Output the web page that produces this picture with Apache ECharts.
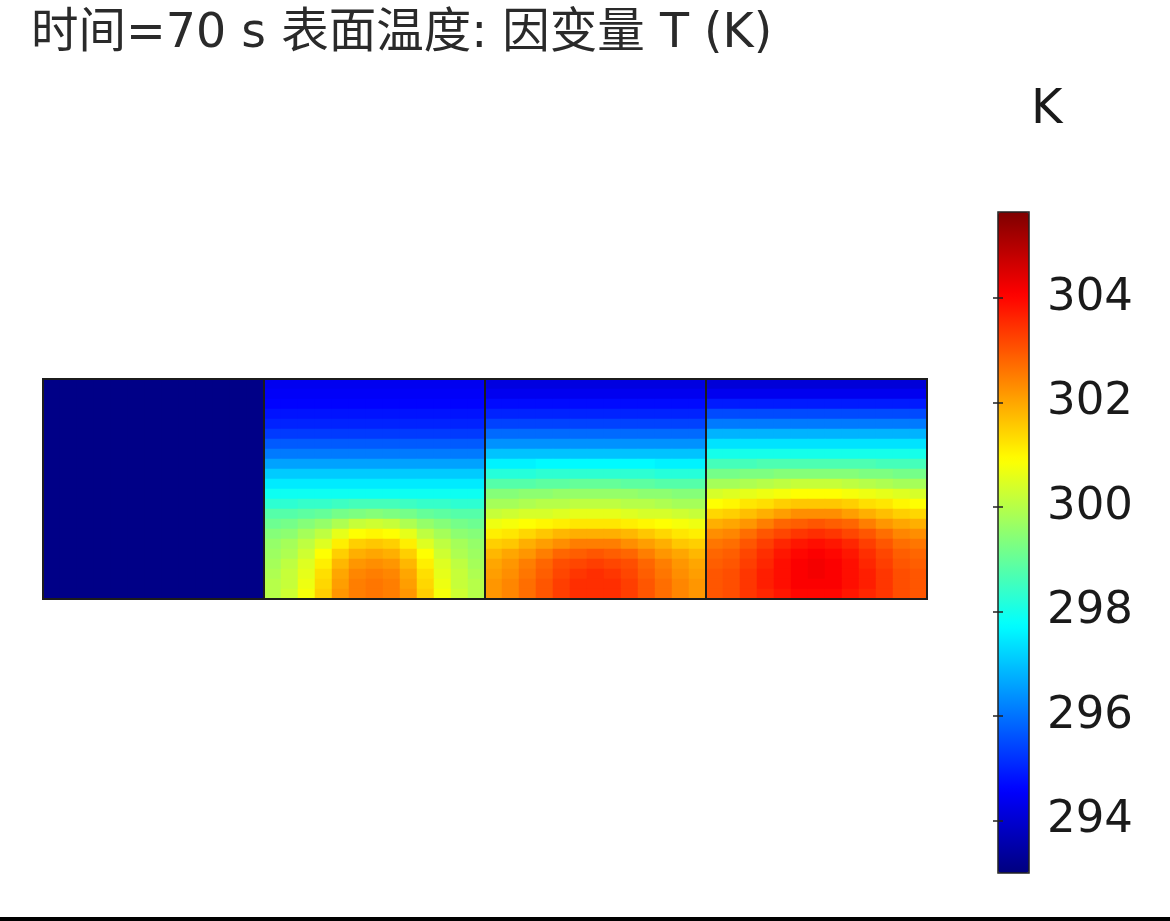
<!DOCTYPE html>
<html><head><meta charset="utf-8">
<script src="https://cdn.jsdelivr.net/npm/echarts@6/dist/echarts.min.js"></script>
<style>html,body{margin:0;padding:0;background:#fff}#c{width:1170px;height:921px}</style>
</head><body><div id="c"></div>
<script>
// ---- data (K), rows top -> bottom (22 rows), 13 columns left -> right per panel ----
const titleText = '时间=70 s 表面温度: 因变量 T (K)';
const unitText = 'K';
const colorbarMin = 293.0;
const colorbarMax = 305.65;
const tickValues = [294, 296, 298, 300, 302, 304];
const jetColors = ['#00007F','#0000FF','#007FFF','#00FFFF','#7FFF7F','#FFFF00','#FF7F00','#FF0000','#7F0000'];

const panel1 = [
  [293.1,293.1,293.1,293.1,293.1,293.1,293.1,293.1,293.1,293.1,293.1,293.1,293.1],
  [293.1,293.1,293.1,293.1,293.1,293.1,293.1,293.1,293.1,293.1,293.1,293.1,293.1],
  [293.1,293.1,293.1,293.1,293.1,293.1,293.1,293.1,293.1,293.1,293.1,293.1,293.1],
  [293.1,293.1,293.1,293.1,293.1,293.1,293.1,293.1,293.1,293.1,293.1,293.1,293.1],
  [293.1,293.1,293.1,293.1,293.1,293.1,293.1,293.1,293.1,293.1,293.1,293.1,293.1],
  [293.1,293.1,293.1,293.1,293.1,293.1,293.1,293.1,293.1,293.1,293.1,293.1,293.1],
  [293.1,293.1,293.1,293.1,293.1,293.1,293.1,293.1,293.1,293.1,293.1,293.1,293.1],
  [293.1,293.1,293.1,293.1,293.1,293.1,293.1,293.1,293.1,293.1,293.1,293.1,293.1],
  [293.1,293.1,293.1,293.1,293.1,293.1,293.1,293.1,293.1,293.1,293.1,293.1,293.1],
  [293.1,293.1,293.1,293.1,293.1,293.1,293.1,293.1,293.1,293.1,293.1,293.1,293.1],
  [293.1,293.1,293.1,293.1,293.1,293.1,293.1,293.1,293.1,293.1,293.1,293.1,293.1],
  [293.1,293.1,293.1,293.1,293.1,293.1,293.1,293.1,293.1,293.1,293.1,293.1,293.1],
  [293.1,293.1,293.1,293.1,293.1,293.1,293.1,293.1,293.1,293.1,293.1,293.1,293.1],
  [293.1,293.1,293.1,293.1,293.1,293.1,293.1,293.1,293.1,293.1,293.1,293.1,293.1],
  [293.1,293.1,293.1,293.1,293.1,293.1,293.1,293.1,293.1,293.1,293.1,293.1,293.1],
  [293.1,293.1,293.1,293.1,293.1,293.1,293.1,293.1,293.1,293.1,293.1,293.1,293.1],
  [293.1,293.1,293.1,293.1,293.1,293.1,293.1,293.1,293.1,293.1,293.1,293.1,293.1],
  [293.1,293.1,293.1,293.1,293.1,293.1,293.1,293.1,293.1,293.1,293.1,293.1,293.1],
  [293.1,293.1,293.1,293.1,293.1,293.1,293.1,293.1,293.1,293.1,293.1,293.1,293.1],
  [293.1,293.1,293.1,293.1,293.1,293.1,293.1,293.1,293.1,293.1,293.1,293.1,293.1],
  [293.1,293.1,293.1,293.1,293.1,293.1,293.1,293.1,293.1,293.1,293.1,293.1,293.1],
  [293.1,293.1,293.1,293.1,293.1,293.1,293.1,293.1,293.1,293.1,293.1,293.1,293.1]
];
const panel2 = [
  [294.4,294.4,294.4,294.4,294.4,294.4,294.4,294.4,294.4,294.4,294.4,294.4,294.4],
  [294.5,294.5,294.5,294.5,294.5,294.5,294.5,294.5,294.5,294.5,294.5,294.5,294.5],
  [294.6,294.6,294.6,294.6,294.6,294.6,294.6,294.6,294.6,294.6,294.6,294.6,294.6],
  [294.8,294.8,294.8,294.8,294.8,294.8,294.8,294.8,294.8,294.8,294.8,294.8,294.8],
  [295.0,295.0,295.0,295.0,295.0,295.0,295.0,295.0,295.0,295.0,295.0,295.0,295.0],
  [295.3,295.3,295.3,295.3,295.3,295.3,295.3,295.3,295.3,295.3,295.3,295.3,295.3],
  [295.7,295.7,295.7,295.7,295.7,295.7,295.7,295.7,295.7,295.7,295.7,295.7,295.7],
  [296.1,296.1,296.1,296.1,296.1,296.1,296.1,296.1,296.1,296.1,296.1,296.1,296.1],
  [296.6,296.6,296.6,296.6,296.6,296.6,296.6,296.6,296.6,296.6,296.6,296.6,296.6],
  [297.1,297.1,297.1,297.1,297.1,297.1,297.1,297.1,297.1,297.1,297.1,297.1,297.1],
  [297.5,297.5,297.5,297.5,297.5,297.5,297.5,297.5,297.5,297.5,297.5,297.5,297.5],
  [297.9,297.9,297.9,297.9,297.9,297.9,297.9,297.9,297.9,297.9,297.9,297.9,297.9],
  [298.3,298.3,298.4,298.4,298.5,298.6,298.6,298.6,298.5,298.4,298.4,298.3,298.3],
  [298.8,298.8,298.9,299.0,299.2,299.3,299.4,299.3,299.2,299.0,298.9,298.8,298.8],
  [299.1,299.2,299.4,299.6,299.9,300.2,300.3,300.2,299.9,299.6,299.4,299.2,299.1],
  [299.4,299.5,299.8,300.1,300.6,300.9,301.0,300.9,300.6,300.1,299.8,299.5,299.4],
  [299.6,299.8,300.1,300.5,301.1,301.5,301.6,301.5,301.1,300.5,300.1,299.8,299.6],
  [299.7,299.9,300.3,300.9,301.5,301.9,302.0,301.9,301.5,300.9,300.3,299.9,299.7],
  [299.8,300.1,300.5,301.1,301.8,302.2,302.3,302.2,301.8,301.1,300.5,300.1,299.8],
  [299.9,300.2,300.6,301.3,302.0,302.4,302.5,302.4,302.0,301.3,300.6,300.2,299.9],
  [300.0,300.2,300.7,301.4,302.1,302.5,302.6,302.5,302.1,301.4,300.7,300.2,300.0],
  [300.0,300.3,300.8,301.5,302.2,302.5,302.6,302.5,302.2,301.5,300.8,300.3,300.0]
];
const panel3 = [
  [294.2,294.2,294.2,294.2,294.2,294.2,294.2,294.2,294.2,294.2,294.2,294.2,294.2],
  [294.4,294.4,294.4,294.4,294.4,294.4,294.4,294.4,294.4,294.4,294.4,294.4,294.4],
  [294.7,294.7,294.7,294.7,294.7,294.7,294.7,294.7,294.7,294.7,294.7,294.7,294.7],
  [295.0,295.0,295.0,295.0,295.0,295.0,295.0,295.0,295.0,295.0,295.0,295.0,295.0],
  [295.4,295.4,295.4,295.4,295.4,295.4,295.4,295.4,295.4,295.4,295.4,295.4,295.4],
  [295.9,295.9,295.9,295.9,295.9,295.9,295.9,295.9,295.9,295.9,295.9,295.9,295.9],
  [296.4,296.4,296.4,296.4,296.4,296.4,296.4,296.4,296.4,296.4,296.4,296.4,296.4],
  [297.0,297.0,297.0,297.0,297.0,297.0,297.0,297.0,297.0,297.0,297.0,297.0,297.0],
  [297.6,297.6,297.6,297.7,297.7,297.7,297.7,297.7,297.7,297.7,297.6,297.6,297.6],
  [298.2,298.2,298.2,298.3,298.3,298.3,298.3,298.3,298.3,298.3,298.2,298.2,298.2],
  [298.8,298.8,298.8,298.9,298.9,299.0,299.0,299.0,298.9,298.9,298.8,298.8,298.8],
  [299.4,299.4,299.5,299.5,299.6,299.6,299.6,299.6,299.6,299.5,299.5,299.4,299.4],
  [299.8,299.8,299.9,300.0,300.0,300.1,300.1,300.1,300.0,300.0,299.9,299.8,299.8],
  [300.2,300.3,300.4,300.4,300.5,300.6,300.6,300.6,300.5,300.4,300.4,300.3,300.2],
  [300.7,300.8,300.9,301.0,301.1,301.2,301.2,301.2,301.1,301.0,300.9,300.8,300.7],
  [301.1,301.2,301.4,301.6,301.8,301.9,301.9,301.9,301.8,301.6,301.4,301.2,301.1],
  [301.5,301.6,301.9,302.1,302.3,302.5,302.5,302.5,302.3,302.1,301.9,301.6,301.5],
  [301.8,302.0,302.2,302.5,302.8,302.9,303.0,302.9,302.8,302.5,302.2,302.0,301.8],
  [302.0,302.2,302.5,302.8,303.1,303.2,303.3,303.2,303.1,302.8,302.5,302.2,302.0],
  [302.1,302.3,302.6,302.9,303.2,303.4,303.5,303.4,303.2,302.9,302.6,302.3,302.1],
  [302.2,302.4,302.7,303.0,303.3,303.5,303.5,303.5,303.3,303.0,302.7,302.4,302.2],
  [302.2,302.4,302.7,303.0,303.3,303.5,303.5,303.5,303.3,303.0,302.7,302.4,302.2]
];
const panel4 = [
  [294.1,294.1,294.1,294.1,294.1,294.1,294.1,294.1,294.1,294.1,294.1,294.1,294.1],
  [294.4,294.4,294.4,294.4,294.4,294.4,294.4,294.4,294.4,294.4,294.4,294.4,294.4],
  [294.9,294.9,294.9,294.9,294.9,294.9,294.9,294.9,294.9,294.9,294.9,294.9,294.9],
  [295.5,295.5,295.5,295.5,295.5,295.5,295.5,295.5,295.5,295.5,295.5,295.5,295.5],
  [296.1,296.1,296.1,296.1,296.1,296.1,296.1,296.1,296.1,296.1,296.1,296.1,296.1],
  [296.8,296.8,296.8,296.8,296.8,296.8,296.8,296.8,296.8,296.8,296.8,296.8,296.8],
  [297.4,297.4,297.4,297.4,297.4,297.4,297.4,297.4,297.4,297.4,297.4,297.4,297.4],
  [298.0,298.0,298.0,298.0,298.0,298.0,298.0,298.0,298.0,298.0,298.0,298.0,298.0],
  [298.6,298.6,298.6,298.7,298.7,298.7,298.7,298.7,298.7,298.7,298.6,298.6,298.6],
  [299.2,299.2,299.3,299.3,299.4,299.4,299.4,299.4,299.4,299.3,299.3,299.2,299.2],
  [299.8,299.8,299.9,300.0,300.1,300.2,300.2,300.2,300.1,300.0,299.9,299.8,299.8],
  [300.4,300.5,300.6,300.7,300.8,300.9,300.9,300.9,300.8,300.7,300.6,300.5,300.4],
  [300.9,301.0,301.2,301.3,301.5,301.6,301.6,301.6,301.5,301.3,301.2,301.0,300.9],
  [301.4,301.5,301.7,301.9,302.1,302.3,302.3,302.3,302.1,301.9,301.7,301.5,301.4],
  [301.9,302.0,302.2,302.5,302.8,302.9,303.0,302.9,302.8,302.5,302.2,302.0,301.9],
  [302.3,302.4,302.7,303.0,303.2,303.4,303.5,303.4,303.2,303.0,302.7,302.4,302.3],
  [302.6,302.7,303.0,303.3,303.6,303.8,303.9,303.8,303.6,303.3,303.0,302.7,302.6],
  [302.8,302.9,303.2,303.5,303.8,304.0,304.1,304.0,303.8,303.5,303.2,302.9,302.8],
  [302.9,303.0,303.3,303.6,303.9,304.1,304.2,304.1,303.9,303.6,303.3,303.0,302.9],
  [303.0,303.1,303.4,303.7,303.9,304.1,304.2,304.1,303.9,303.7,303.4,303.1,303.0],
  [303.0,303.1,303.4,303.7,303.9,304.1,304.1,304.1,303.9,303.7,303.4,303.1,303.0],
  [303.0,303.1,303.4,303.6,303.8,304.0,304.0,304.0,303.8,303.6,303.4,303.1,303.0]
];
const panels = [panel1, panel2, panel3, panel4];

// ---- build heatmap data ----
const nCols = panel1[0].length, nRows = panel1.length;
const xCats = [], yCats = [];
for (let i = 0; i < panels.length * nCols; i++) xCats.push(String(i));
for (let r = 0; r < nRows; r++) yCats.push(String(r));
const heat = [];
panels.forEach((p, pi) => p.forEach((row, r) => row.forEach((v, c) => heat.push([pi * nCols + c, r, v]))));

// ---- layout ----
const G = {left: 43, top: 379, width: 884, height: 220};
const CB = {left: 998, top: 212, width: 31, height: 661};
const FONT = '"DejaVu Sans", "Noto Sans CJK SC", sans-serif';

const chart = echarts.init(document.getElementById('c'), null, {renderer: 'canvas'});
const pw = G.width / panels.length;
const borders = panels.map((_, i) => ({
  type: 'rect', z: 100,
  shape: {x: G.left + i * pw, y: G.top, width: pw, height: G.height},
  style: {fill: null, stroke: '#1c1c1c', lineWidth: 2}
}));
chart.setOption({
  backgroundColor: '#fff',
  animation: false,
  title: [
    {text: titleText, left: 31, top: 11, padding: 0,
     textStyle: {fontFamily: FONT, fontSize: 47.5, fontWeight: 'normal', color: '#2a2a2a'}},
    {text: unitText, left: 1031, top: 87, padding: 0,
     textStyle: {fontFamily: FONT, fontSize: 48, fontWeight: 'normal', color: '#1a1a1a'}}
  ],
  grid: [
    {left: G.left, top: G.top, width: G.width, height: G.height},
    {left: CB.left, top: CB.top, width: CB.width, height: CB.height}
  ],
  xAxis: [
    {type: 'category', data: xCats, show: false, gridIndex: 0},
    {type: 'value', show: false, gridIndex: 1, min: 0, max: 1}
  ],
  yAxis: [
    {type: 'category', data: yCats, inverse: true, show: false, gridIndex: 0},
    {type: 'value', gridIndex: 1, position: 'right', min: colorbarMin, max: colorbarMax, z: 20,
     splitLine: {show: false}, axisLine: {show: false},
     axisTick: {show: true, inside: true, length: 5, customValues: tickValues, lineStyle: {color: '#222', width: 1.5}},
     axisLabel: {show: true, margin: 18, padding: [6, 0, 0, 0], customValues: tickValues,
                 fontFamily: FONT, fontSize: 45, color: '#1a1a1a'}},
    {type: 'value', gridIndex: 1, position: 'left', min: colorbarMin, max: colorbarMax, z: 20,
     splitLine: {show: false}, axisLine: {show: false}, axisLabel: {show: false},
     axisTick: {show: true, inside: true, length: 5, customValues: tickValues, lineStyle: {color: '#222', width: 1.5}}}
  ],
  visualMap: {
    type: 'continuous', min: colorbarMin, max: colorbarMax, calculable: false, realtime: false,
    left: CB.left, top: CB.top, itemWidth: CB.width, itemHeight: CB.height, padding: 0,
    text: null, showLabel: false, hoverLink: false,
    inRange: {color: jetColors}, seriesIndex: 0
  },
  series: [{
    type: 'heatmap', xAxisIndex: 0, yAxisIndex: 0, data: heat,
    itemStyle: {borderWidth: 0}, emphasis: {disabled: true}
  }],
  graphic: borders.concat([
    {type: 'rect', z: 100, shape: {x: CB.left, y: CB.top, width: CB.width, height: CB.height},
     style: {fill: null, stroke: '#222', lineWidth: 1.5}},
    {type: 'line', z: 100, shape: {x1: 0, y1: 919, x2: 1170, y2: 919}, style: {stroke: '#000', lineWidth: 4}}
  ])
});
</script></body></html>
